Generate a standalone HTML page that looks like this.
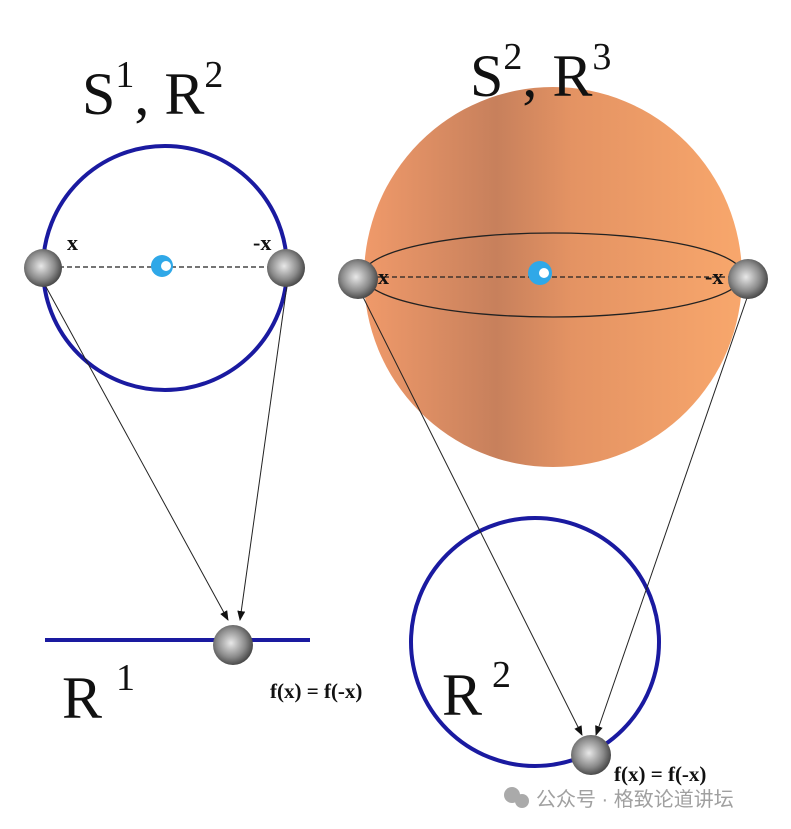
<!DOCTYPE html>
<html><head><meta charset="utf-8"><style>body{margin:0;background:#fff}svg{display:block}</style></head><body>
<svg width="791" height="829" viewBox="0 0 791 829" xmlns="http://www.w3.org/2000/svg">
<defs>
<radialGradient id="ball" cx="0.45" cy="0.45" r="0.6"><stop offset="0" stop-color="#e8e8e8"/><stop offset="0.6" stop-color="#8a8a8a"/><stop offset="1" stop-color="#3a3a3a"/></radialGradient>
<linearGradient id="org" x1="0" x2="1" y1="0" y2="0"><stop offset="0" stop-color="#f09a6a"/><stop offset="0.35" stop-color="#c7805c"/><stop offset="0.55" stop-color="#e49363"/><stop offset="1" stop-color="#f8a76c"/></linearGradient>
<marker id="ar" markerWidth="10" markerHeight="8" refX="9" refY="4" orient="auto" markerUnits="userSpaceOnUse"><path d="M0,0 L10,4 L0,8 z" fill="#111"/></marker>
</defs>
<ellipse cx="553" cy="277" rx="189" ry="190" fill="url(#org)"/>
<ellipse cx="553" cy="275" rx="190" ry="42" fill="none" stroke="#222" stroke-width="1.3"/>
<g font-family="Liberation Serif, serif" fill="#111">
<text x="82" y="114" font-size="60">S<tspan font-size="38" dy="-27">1</tspan><tspan dy="27">, R</tspan><tspan font-size="38" dy="-27">2</tspan></text>
<text x="470" y="96" font-size="60">S<tspan font-size="38" dy="-27">2</tspan><tspan dy="27">, R</tspan><tspan font-size="38" dy="-27">3</tspan></text>
<text x="62" y="718" font-size="60">R<tspan font-size="38" dy="-28" dx="14">1</tspan></text>
<text x="442" y="715" font-size="60">R<tspan font-size="38" dy="-28" dx="10">2</tspan></text>
</g>
<circle cx="165" cy="268" r="122" fill="none" stroke="#1a1aa0" stroke-width="4"/>
<circle cx="535" cy="642" r="124" fill="none" stroke="#1a1aa0" stroke-width="4"/>
<line x1="45" y1="640" x2="310" y2="640" stroke="#1a1aa0" stroke-width="4"/>
<g stroke="#222" stroke-width="1.2" stroke-dasharray="5,3">
<line x1="43" y1="267" x2="286" y2="267"/><line x1="360" y1="277" x2="748" y2="277"/></g>
<g stroke="#222" stroke-width="1" fill="none" marker-end="url(#ar)">
<line x1="45" y1="285" x2="228" y2="620"/><line x1="287" y1="285" x2="240" y2="620"/>
<line x1="362" y1="295" x2="582" y2="735"/><line x1="748" y1="295" x2="596" y2="735"/></g>
<g fill="url(#ball)">
<circle cx="43" cy="268" r="19"/><circle cx="286" cy="268" r="19"/>
<circle cx="358" cy="279" r="20"/><circle cx="748" cy="279" r="20"/>
<circle cx="233" cy="645" r="20"/><circle cx="591" cy="755" r="20"/></g>
<g font-family="Liberation Serif, serif" font-weight="bold" font-size="22" fill="#111">
<text x="67" y="250">x</text><text x="253" y="250">-x</text>
<text x="378" y="284">x</text><text x="705" y="284">-x</text>
<text x="270" y="698" font-size="21">f(x) = f(-x)</text>
<text x="614" y="781" font-size="21">f(x) = f(-x)</text></g>
<circle cx="162" cy="266" r="11" fill="#2fa8e8"/><circle cx="166" cy="266" r="5" fill="#fff"/>
<circle cx="540" cy="273" r="12" fill="#2fa8e8"/><circle cx="544" cy="273" r="5" fill="#fff"/>
<g fill="#aaa"><circle cx="512" cy="795" r="8"/><circle cx="522" cy="801" r="7"/></g>
<text x="536" y="806" font-family="Liberation Sans, Noto Sans CJK SC, sans-serif" font-size="20" fill="#a0a0a0">公众号 · 格致论道讲坛</text>
</svg>
</body></html>
